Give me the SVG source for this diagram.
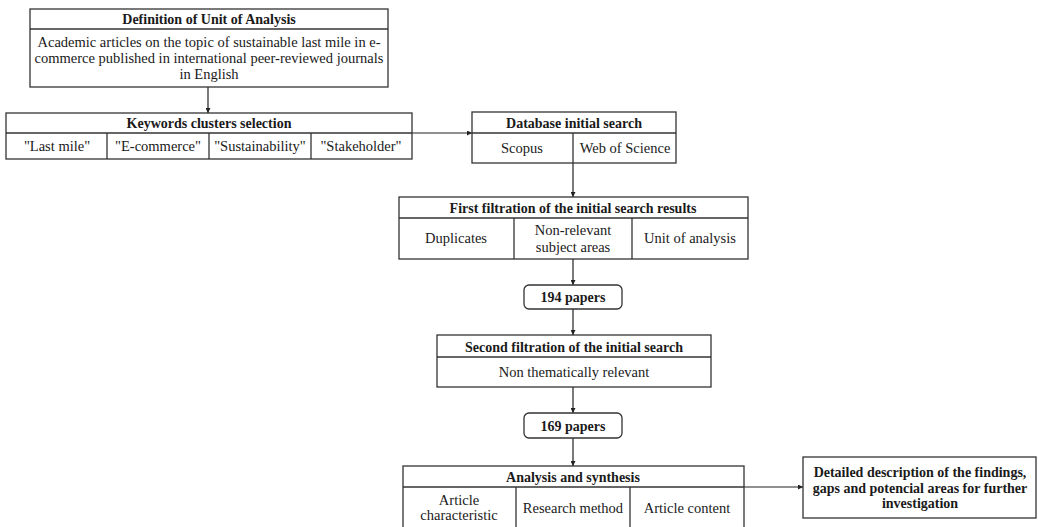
<svg xmlns="http://www.w3.org/2000/svg" width="1038" height="527" viewBox="0 0 1038 527" font-family="'Liberation Serif', 'Times New Roman', serif">
<style>
.box{fill:#fff;stroke:#333;stroke-width:1.3}
.ln{stroke:#333;stroke-width:1.3;fill:none}
text{font-family:"Liberation Serif","Times New Roman",serif;font-size:14.5px;fill:#1a1a1a;text-anchor:middle}
.b{font-weight:bold;font-size:14px}
.con{stroke:#222;stroke-width:1.2;fill:none;marker-end:url(#ah)}
</style>
<defs>
<marker id="ah" viewBox="0 0 6 6" refX="6" refY="3" markerWidth="5" markerHeight="5" markerUnits="userSpaceOnUse" orient="auto">
<path d="M0,0 L6,3 L0,6 z" fill="#222"/>
</marker>
</defs>
<rect width="1038" height="527" fill="#fff"/>
<g id="connectors">
<line class="con" x1="208" y1="87" x2="208" y2="113"/>
<line class="con" x1="412" y1="133" x2="472" y2="133"/>
<line class="con" x1="573" y1="163" x2="573" y2="197"/>
<line class="con" x1="573" y1="259" x2="573" y2="285"/>
<line class="con" x1="573" y1="309" x2="573" y2="335"/>
<line class="con" x1="573" y1="387" x2="573" y2="413"/>
<line class="con" x1="573" y1="438" x2="573" y2="466"/>
<line class="con" x1="744" y1="487" x2="803" y2="487"/>
</g>
<g id="unit-of-analysis">
<rect class="box" x="30" y="9" width="358" height="78"/>
<line class="ln" x1="30" y1="29" x2="388" y2="29"/>
<text class="b" x="209" y="24">Definition of Unit of Analysis</text>
<text x="209" y="47">Academic articles on the topic of sustainable last mile in e-</text>
<text x="209" y="63">commerce published in international peer-reviewed journals</text>
<text x="209" y="79">in English</text>
</g>
<g id="keywords">
<rect class="box" x="6" y="113" width="406" height="46"/>
<line class="ln" x1="6" y1="133" x2="412" y2="133"/>
<line class="ln" x1="107" y1="133" x2="107" y2="159"/>
<line class="ln" x1="209" y1="133" x2="209" y2="159"/>
<line class="ln" x1="311" y1="133" x2="311" y2="159"/>
<text class="b" x="209" y="128">Keywords clusters selection</text>
<text x="57" y="151">"Last mile"</text>
<text x="158" y="151">"E-commerce"</text>
<text x="260" y="151">"Sustainability"</text>
<text x="361" y="151">"Stakeholder"</text>
</g>
<g id="database">
<rect class="box" x="472" y="112" width="204" height="51"/>
<line class="ln" x1="472" y1="133" x2="676" y2="133"/>
<line class="ln" x1="573" y1="133" x2="573" y2="163"/>
<text class="b" x="574" y="128">Database initial search</text>
<text x="522" y="153">Scopus</text>
<text x="625" y="153">Web of Science</text>
</g>
<g id="first-filtration">
<rect class="box" x="399" y="197" width="349" height="62"/>
<line class="ln" x1="399" y1="218" x2="748" y2="218"/>
<line class="ln" x1="514" y1="218" x2="514" y2="259"/>
<line class="ln" x1="632" y1="218" x2="632" y2="259"/>
<text class="b" x="573" y="213">First filtration of the initial search results</text>
<text x="456" y="243">Duplicates</text>
<text x="573" y="235">Non-relevant</text>
<text x="573" y="252">subject areas</text>
<text x="690" y="243">Unit of analysis</text>
</g>
<g id="papers-194">
<rect class="box" x="524" y="285" width="98" height="24" rx="5"/>
<text class="b" x="573" y="302">194 papers</text>
</g>
<g id="second-filtration">
<rect class="box" x="437" y="335" width="274" height="52"/>
<line class="ln" x1="437" y1="357" x2="711" y2="357"/>
<text class="b" x="574" y="352">Second filtration of the initial search</text>
<text x="574" y="377">Non thematically relevant</text>
</g>
<g id="papers-169">
<rect class="box" x="524" y="413" width="98" height="25" rx="5"/>
<text class="b" x="573" y="431">169 papers</text>
</g>
<g id="analysis">
<rect class="box" x="403" y="466" width="341" height="64"/>
<line class="ln" x1="403" y1="487" x2="744" y2="487"/>
<line class="ln" x1="516" y1="487" x2="516" y2="530"/>
<line class="ln" x1="630" y1="487" x2="630" y2="530"/>
<text class="b" x="573" y="482">Analysis and synthesis</text>
<text x="459" y="505">Article</text>
<text x="459" y="520">characteristic</text>
<text x="573" y="513">Research method</text>
<text x="687" y="513">Article content</text>
</g>
<g id="findings">
<rect class="box" x="803" y="457" width="233" height="61"/>
<text class="b" x="920" y="477">Detailed description of the findings,</text>
<text class="b" x="920" y="493">gaps and potencial areas for further</text>
<text class="b" x="920" y="508">investigation</text>
</g>
</svg>
